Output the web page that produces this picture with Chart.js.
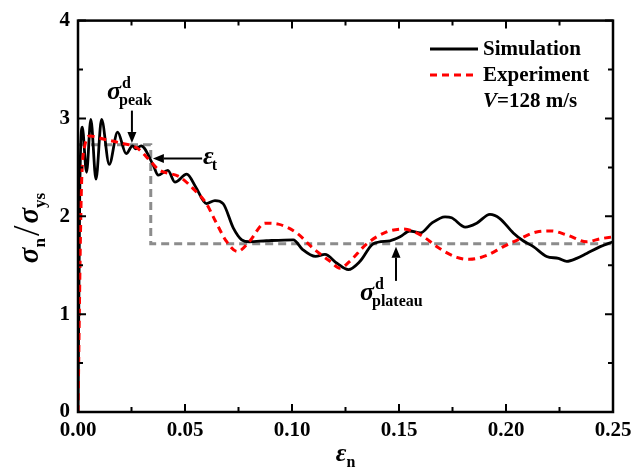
<!DOCTYPE html>
<html>
<head>
<meta charset="utf-8">
<script src="https://cdn.jsdelivr.net/npm/chart.js@4.4.0/dist/chart.umd.min.js"></script>
<style>
    html, body { margin: 0; padding: 0; background: #fff; }
    #wrap { width: 644px; height: 474px; }
</style>
</head>
<body>
<div id="wrap"><canvas id="chart" width="644" height="474"></canvas></div>
<script>
// Normalised stress vs nominal strain, V = 128 m/s
const simStrain = [0, 0.0008, 0.002, 0.004, 0.006, 0.0084, 0.011, 0.0146, 0.0185, 0.0225, 0.0255, 0.027, 0.0295,
    0.0352, 0.0375, 0.042, 0.0453, 0.0508, 0.055, 0.060, 0.064, 0.0678, 0.0726, 0.0765, 0.080, 0.088, 0.1006,
    0.105, 0.111, 0.1154, 0.121, 0.1263, 0.1318, 0.138, 0.1458, 0.1505, 0.155, 0.16, 0.1653, 0.1715, 0.1746,
    0.181, 0.1863, 0.1925, 0.197, 0.2034, 0.208, 0.2128, 0.219, 0.2245, 0.2284, 0.233, 0.2377, 0.244, 0.25];
const simStress = [0, 2.2, 2.91, 2.45, 2.99, 2.38, 2.99, 2.53, 2.86, 2.64, 2.72, 2.69, 2.72,
    2.52, 2.42, 2.47, 2.35, 2.43, 2.30, 2.13, 2.16, 2.13, 1.88, 1.76, 1.74, 1.75, 1.76,
    1.66, 1.59, 1.61, 1.52, 1.455, 1.54, 1.72, 1.75, 1.79, 1.85, 1.83, 1.93, 1.995, 1.985,
    1.89, 1.93, 2.02, 1.98, 1.83, 1.75, 1.69, 1.59, 1.57, 1.54, 1.57, 1.62, 1.69, 1.74];

const expStrain = [0, 0.0015, 0.003, 0.0056, 0.0118, 0.0196, 0.0274, 0.0336, 0.0375, 0.0477, 0.0539, 0.060,
    0.064, 0.0695, 0.0745, 0.080, 0.0874, 0.0936, 0.1022, 0.110, 0.1178, 0.1224, 0.127, 0.135, 0.1442, 0.152,
    0.16, 0.169, 0.177, 0.183, 0.191, 0.1988, 0.2065, 0.2143, 0.2213, 0.2284, 0.2377, 0.244, 0.25];
const expStress = [0, 2.2, 2.7, 2.82, 2.79, 2.75, 2.70, 2.57, 2.48, 2.40, 2.28, 2.13,
    1.96, 1.74, 1.64, 1.74, 1.93, 1.92, 1.83, 1.67, 1.54, 1.47, 1.54, 1.72, 1.84, 1.87,
    1.81, 1.67, 1.58, 1.56, 1.60, 1.69, 1.77, 1.84, 1.85, 1.81, 1.74, 1.77, 1.79];

// idealised peak / plateau model
const idealStrain = [0, 0.034, 0.034, 0.25];
const idealStress = [2.73, 2.73, 1.72, 1.72];

const seriesNames = ['Simulation', 'Experiment'];
const velocityLabel = '=128 m/s';

const SERIF = '"Liberation Serif", "Times New Roman", serif';

function toPoints(xs, ys) {
    return xs.map((x, i) => ({ x: x, y: ys[i] }));
}

// draws a run of text pieces {t, font, dy} starting at x (baseline y)
function drawPieces(ctx, pieces, x, y, align) {
    let total = 0;
    pieces.forEach(p => { ctx.font = p.font; total += ctx.measureText(p.t).width + (p.gap || 0); });
    let cx = align === 'center' ? x - total / 2 : x;
    pieces.forEach(p => {
        ctx.font = p.font;
        ctx.fillText(p.t, cx, y + (p.dy || 0));
        cx += ctx.measureText(p.t).width + (p.gap || 0);
    });
}

// symbol with stacked superscript and subscript
function drawSupSub(ctx, x, y, sym, sup, sub) {
    ctx.font = 'italic bold 26px ' + SERIF;
    ctx.fillText(sym, x, y);
    const w = ctx.measureText(sym).width;
    ctx.font = 'bold 16px ' + SERIF;
    if (sup) ctx.fillText(sup, x + w + 1, y - 11);
    if (sub) ctx.fillText(sub, x + w - 2, y + 6);
}

function arrow(ctx, x1, y1, x2, y2) {
    const ang = Math.atan2(y2 - y1, x2 - x1);
    const len = 11, half = 4.5;
    ctx.beginPath();
    ctx.moveTo(x1, y1);
    ctx.lineTo(x2 - Math.cos(ang) * len, y2 - Math.sin(ang) * len);
    ctx.lineWidth = 2;
    ctx.strokeStyle = '#000';
    ctx.stroke();
    ctx.beginPath();
    ctx.moveTo(x2, y2);
    ctx.lineTo(x2 - Math.cos(ang) * len - Math.sin(ang) * half, y2 - Math.sin(ang) * len + Math.cos(ang) * half);
    ctx.lineTo(x2 - Math.cos(ang) * len + Math.sin(ang) * half, y2 - Math.sin(ang) * len - Math.cos(ang) * half);
    ctx.closePath();
    ctx.fillStyle = '#000';
    ctx.fill();
}

const decorations = {
    id: 'decorations',
    afterDraw(chart) {
        const ctx = chart.ctx;
        const a = chart.chartArea;
        const xs = chart.scales.x, ys = chart.scales.y;
        ctx.save();

        // frame
        ctx.strokeStyle = '#000';
        ctx.lineWidth = 2.5;
        ctx.setLineDash([]);
        ctx.strokeRect(a.left, a.top, a.right - a.left, a.bottom - a.top);

        // inward ticks on all four sides
        ctx.lineWidth = 2;
        ctx.beginPath();
        for (let i = 0; i <= 10; i++) {
            const v = i * 0.025;
            const px = xs.getPixelForValue(v);
            const L = i % 2 === 0 ? 8 : 5;
            ctx.moveTo(px, a.bottom); ctx.lineTo(px, a.bottom - L);
            ctx.moveTo(px, a.top); ctx.lineTo(px, a.top + L);
        }
        for (let i = 0; i <= 8; i++) {
            const v = i * 0.5;
            const py = ys.getPixelForValue(v);
            const L = i % 2 === 0 ? 8 : 5;
            ctx.moveTo(a.left, py); ctx.lineTo(a.left + L, py);
            ctx.moveTo(a.right, py); ctx.lineTo(a.right - L, py);
        }
        ctx.stroke();

        ctx.fillStyle = '#000';
        ctx.textBaseline = 'alphabetic';
        ctx.textAlign = 'left';

        // x axis title
        drawPieces(ctx, [
            { t: 'ε', font: 'italic bold 26px ' + SERIF },
            { t: 'n', font: 'bold 16px ' + SERIF, dy: 6 }
        ], (a.left + a.right) / 2, 461, 'center');

        // y axis title (rotated)
        ctx.save();
        ctx.translate(38, 228);
        ctx.rotate(-Math.PI / 2);
        drawPieces(ctx, [
            { t: 'σ', font: 'italic bold 29px ' + SERIF },
            { t: 'n', font: 'bold 17px ' + SERIF, dy: 7, gap: 2 },
            { t: '/', font: '38px ' + SERIF, dy: 1, gap: 2 },
            { t: 'σ', font: 'italic bold 29px ' + SERIF },
            { t: 'ys', font: 'bold 17px ' + SERIF, dy: 7 }
        ], 0, 0, 'center');
        ctx.restore();

        // legend
        const ds = chart.data.datasets;
        const rows = [49, 75];
        [0, 1].forEach(i => {
            ctx.beginPath();
            ctx.strokeStyle = ds[i].borderColor;
            ctx.lineWidth = ds[i].borderWidth;
            ctx.setLineDash(ds[i].borderDash || []);
            ctx.moveTo(430, rows[i]); ctx.lineTo(478, rows[i]);
            ctx.stroke();
            ctx.setLineDash([]);
            ctx.font = 'bold 21px ' + SERIF;
            ctx.textBaseline = 'middle';
            ctx.fillText(ds[i].label, 483, rows[i] + 1);
        });
        ctx.textBaseline = 'middle';
        drawPieces(ctx, [
            { t: 'V', font: 'italic bold 21px ' + SERIF },
            { t: velocityLabel, font: 'bold 21px ' + SERIF }
        ], 483, 102, 'left');
        ctx.textBaseline = 'alphabetic';

        // annotations
        const X = v => xs.getPixelForValue(v), Y = v => ys.getPixelForValue(v);
        arrow(ctx, X(0.0252), Y(3.08), X(0.0252), Y(2.75));
        drawSupSub(ctx, 107, 99, 'σ', 'd', 'peak');

        arrow(ctx, X(0.058), Y(2.59), X(0.035), Y(2.59));
        drawSupSub(ctx, 203, 164, 'ε', null, 't');

        arrow(ctx, X(0.1486), Y(1.34), X(0.1486), Y(1.69));
        drawSupSub(ctx, 360, 300, 'σ', 'd', 'plateau');

        ctx.restore();
    }
};

const ctx = document.getElementById('chart').getContext('2d');
new Chart(ctx, {
    type: 'line',
    data: {
        datasets: [{
            label: seriesNames[0],
            data: toPoints(simStrain, simStress),
            borderColor: '#000000',
            borderWidth: 2.8,
            pointRadius: 0,
            cubicInterpolationMode: 'monotone',
            order: 1
        }, {
            label: seriesNames[1],
            data: toPoints(expStrain, expStress),
            borderColor: '#ff0000',
            borderWidth: 3,
            borderDash: [7, 5],
            pointRadius: 0,
            cubicInterpolationMode: 'monotone',
            order: 0
        }, {
            label: 'Model',
            data: toPoints(idealStrain, idealStress),
            borderColor: '#8c8c8c',
            borderWidth: 3,
            borderDash: [8, 5],
            pointRadius: 0,
            tension: 0,
            order: 2
        }]
    },
    options: {
        responsive: false,
        animation: false,
        devicePixelRatio: 1,
        layout: { padding: { left: 0, right: 31, top: 17, bottom: 0 } },
        plugins: {
            legend: { display: false },
            tooltip: { enabled: false }
        },
        scales: {
            x: {
                type: 'linear',
                min: 0,
                max: 0.25,
                ticks: {
                    stepSize: 0.05,
                    maxRotation: 0,
                    padding: 6,
                    color: '#000',
                    font: { family: SERIF, size: 21, weight: 'bold' },
                    callback: v => v.toFixed(2)
                },
                grid: { drawOnChartArea: false, drawTicks: false },
                border: { display: false },
                afterFit: s => { s.height = 62; }
            },
            y: {
                min: 0,
                max: 4,
                ticks: {
                    stepSize: 1,
                    padding: 8,
                    color: '#000',
                    font: { family: SERIF, size: 21, weight: 'bold' }
                },
                grid: { drawOnChartArea: false, drawTicks: false },
                border: { display: false },
                afterFit: s => { s.width = 78; }
            }
        }
    },
    plugins: [decorations]
});
</script>
</body>
</html>
